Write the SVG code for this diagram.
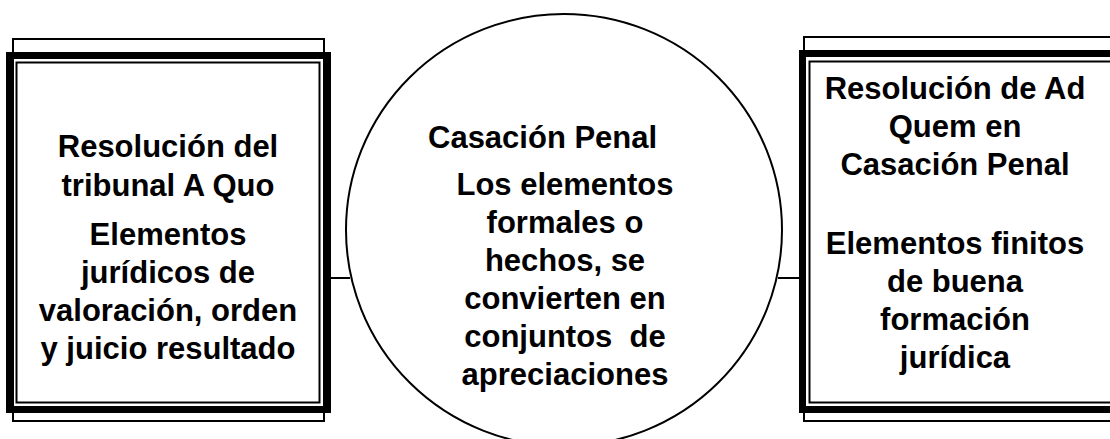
<svg xmlns="http://www.w3.org/2000/svg" width="1110" height="439" viewBox="0 0 1110 439">
<style>
.back{fill:none;stroke:#000;stroke-width:2}
.thick{fill:none;stroke:#000;stroke-width:7}
.inner{fill:none;stroke:#000;stroke-width:2}
.t{font-family:"Liberation Sans",Arial,sans-serif;font-weight:bold;font-size:31px;fill:#000}
.c{text-anchor:middle}
.conn{stroke:#000;stroke-width:2;fill:none}
</style>
<rect width="1110" height="439" fill="#fff"/>
<g id="connectors">
<line class="conn" x1="331" y1="278" x2="350" y2="278"/>
<line class="conn" x1="778" y1="278" x2="799" y2="278"/>
</g>
<g id="node-left">
<rect class="back" x="13" y="39" width="311" height="382"/>
<rect x="9.5" y="55.5" width="318" height="354" fill="#fff" class="thick"/>
<rect class="inner" x="16.5" y="62.5" width="303" height="340"/>
<text class="t c" x="168" y="157">Resolución del</text>
<text class="t c" x="168" y="196">tribunal A Quo</text>
<text class="t c" x="168" y="245">Elementos</text>
<text class="t c" x="168" y="283">jurídicos de</text>
<text class="t c" x="168" y="321">valoración, orden</text>
<text class="t c" x="168" y="359">y juicio resultado</text>
</g>
<g id="node-center">
<ellipse cx="564" cy="230" rx="218" ry="216" fill="#fff" stroke="#000" stroke-width="2"/>
<text class="t" x="428" y="148">Casación Penal</text>
<text class="t c" x="565" y="195">Los elementos</text>
<text class="t c" x="565" y="233">formales o</text>
<text class="t c" x="565" y="271">hechos, se</text>
<text class="t c" x="565" y="309">convierten en</text>
<text class="t c" x="565" y="347" xml:space="preserve">conjuntos  de</text>
<text class="t c" x="565" y="385">apreciaciones</text>
</g>
<g id="node-right">
<rect class="back" x="804" y="37" width="320" height="384"/>
<rect x="802.5" y="53.5" width="320" height="356" fill="#fff" class="thick"/>
<rect class="inner" x="809.5" y="61.5" width="310" height="341"/>
<text class="t c" x="955" y="99">Resolución de Ad</text>
<text class="t c" x="955" y="137">Quem en</text>
<text class="t c" x="955" y="175">Casación Penal</text>
<text class="t c" x="955" y="254">Elementos finitos</text>
<text class="t c" x="955" y="292">de buena</text>
<text class="t c" x="955" y="330">formación</text>
<text class="t c" x="955" y="368">jurídica</text>
</g>
</svg>
